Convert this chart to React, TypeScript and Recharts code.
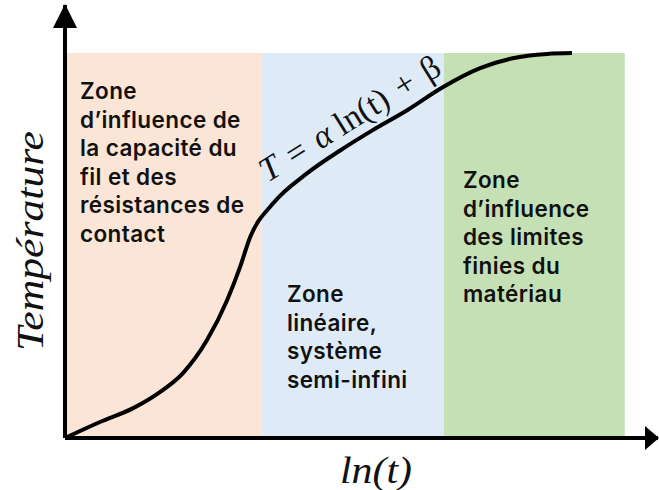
import { ComposedChart, Line, XAxis, YAxis, ReferenceArea, ReferenceDot, Label } from "recharts";

// curve (arbitrary units, 0-100 on both axes)
const lnT = [0, 5.9, 11.5, 16.0, 19.9, 23.9, 27.3, 29.5, 31.2, 35.1, 40.8, 46.4, 51.9, 57.7, 63.7, 70.0, 75.5, 81.3, 85.5];
const temperature = [0, 3.7, 6.9, 10.6, 15.0, 22.5, 31.7, 39.4, 46.3, 54.2, 61.1, 66.4, 71.1, 75.7, 81.0, 85.4, 87.7, 88.7, 88.9];

const zoneBounds = [0, 33.2, 63.9, 94.4];
const zoneTop = 88.9;
const zoneColors = ["#FBE5D6", "#DEEBF7", "#C5E0B4"];
const zoneTexts = [
  ["Zone", "d\u2019influence de", "la capacité du", "fil et des", "résistances de", "contact"],
  ["Zone", "linéaire,", "système", "semi-infini"],
  ["Zone", "d\u2019influence", "des limites", "finies du", "matériau"],
];
// text offset inside each zone (px from top-left corner)
const zoneTextPos = [
  [15, 46],
  [25, 249],
  [19, 135],
];

const data = lnT.map((x, i) => ({ x, y: temperature[i] }));

const zoneFont = "Inter, 'Open Sans', sans-serif";
const serif = "'Liberation Serif', 'DejaVu Serif', serif";

function ZoneText({ viewBox, lines, pos }: any) {
  const { x, y } = viewBox;
  return (
    <text
      x={x + pos[0]}
      y={y + pos[1]}
      fontFamily={zoneFont}
      fontWeight={600}
      fontSize={22.5}
      letterSpacing={0.4}
      fill="#111"
    >
      {lines.map((l: string, i: number) => (
        <tspan key={i} x={x + pos[0]} dy={i === 0 ? 0 : 28.6}>
          {l}
        </tspan>
      ))}
    </text>
  );
}

function UpArrow({ cx, cy }: any) {
  return <path d={`M${cx},${cy - 1} L${cx - 12},${cy + 23} L${cx + 12},${cy + 23} Z`} fill="#000" />;
}

function RightArrow({ cx, cy }: any) {
  return <path d={`M${cx + 1},${cy} L${cx - 13},${cy - 12} L${cx - 13},${cy + 12} Z`} fill="#000" />;
}

function Equation({ cx, cy }: any) {
  return (
    <text
      x={cx}
      y={cy}
      transform={`rotate(-32 ${cx} ${cy})`}
      textAnchor="middle"
      fontFamily={serif}
      fontSize={34}
      fill="#111"
    >
      <tspan fontStyle="italic">T</tspan>
      <tspan dx={12}>=</tspan>
      <tspan dx={12} fontStyle="italic">α</tspan>
      <tspan dx={8}>ln(t)</tspan>
      <tspan dx={12}>+</tspan>
      <tspan dx={12}>β</tspan>
    </text>
  );
}

export default function App() {
  return (
    <div style={{ position: "absolute", left: 0, top: 0, background: "#fff" }}>
      <ComposedChart width={659} height={490} data={data} margin={{ top: 5, right: 1, left: 0, bottom: 0 }}>
        {zoneColors.map((c, i) => (
          <ReferenceArea
            key={i}
            x1={zoneBounds[i]}
            x2={zoneBounds[i + 1]}
            y1={0}
            y2={zoneTop}
            fill={c}
            fillOpacity={1}
            stroke="none"
            ifOverflow="visible"
          >
            <Label content={(p: any) => <ZoneText viewBox={p.viewBox} lines={zoneTexts[i]} pos={zoneTextPos[i]} />} />
          </ReferenceArea>
        ))}
        <XAxis
          type="number"
          dataKey="x"
          domain={[0, 100]}
          height={52}
          tick={false}
          tickLine={false}
          axisLine={{ stroke: "#000", strokeWidth: 4 }}
        >
          <Label
            content={() => (
              <text
                x={376}
                y={483}
                textAnchor="middle"
                fontFamily={serif}
                fontStyle="italic"
                fontSize={38}
                fill="#111"
                textLength={72}
                lengthAdjust="spacingAndGlyphs"
              >
                ln(t)
              </text>
            )}
          />
        </XAxis>
        <YAxis
          type="number"
          domain={[0, 100]}
          width={65}
          tick={false}
          tickLine={false}
          axisLine={{ stroke: "#000", strokeWidth: 4 }}
        >
          <Label
            content={() => (
              <text
                x={43}
                y={241}
                transform="rotate(-90 43 241)"
                textAnchor="middle"
                fontFamily={serif}
                fontStyle="italic"
                fontSize={38}
                fill="#111"
                textLength={220}
                lengthAdjust="spacingAndGlyphs"
              >
                Température
              </text>
            )}
          />
        </YAxis>
        <Line type="monotone" dataKey="y" stroke="#000" strokeWidth={4} dot={false} isAnimationActive={false} />
        <ReferenceDot x={49.0} y={71.6} r={0} ifOverflow="visible" shape={(p: any) => <Equation {...p} />} />
        <ReferenceDot x={0} y={100} r={0} ifOverflow="visible" shape={(p: any) => <UpArrow {...p} />} />
        <ReferenceDot x={100} y={0} r={0} ifOverflow="visible" shape={(p: any) => <RightArrow {...p} />} />
      </ComposedChart>
    </div>
  );
}
